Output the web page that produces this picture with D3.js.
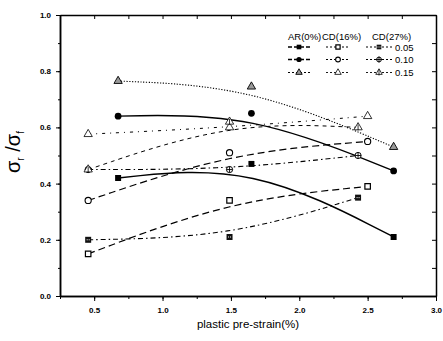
<!DOCTYPE html>
<html><head><meta charset="utf-8">
<script src="https://cdn.jsdelivr.net/npm/d3@7"></script>
<style>
body{margin:0;background:#fff}
svg{display:block}
text{font-family:"Liberation Sans",Arial,sans-serif;fill:#000}
</style>
</head><body>
<svg id="c" width="443" height="341"></svg>
<script>
// ---- data ----
const xAR   = [0.675, 1.65, 2.69];
const xCD16 = [0.456, 1.49, 2.50];
const xCD27 = [0.456, 1.49, 2.43];
const ar005   = [0.42, 0.47, 0.21];
const ar010   = [0.64, 0.65, 0.445];
const ar015   = [0.765, 0.745, 0.53];
const cd16005 = [0.15, 0.34, 0.39];
const cd16010 = [0.34, 0.51, 0.55];
const cd16015 = [0.576, 0.60, 0.64];
const cd27005 = [0.20, 0.21, 0.35];
const cd27010 = [0.45, 0.45, 0.50];
const cd27015 = [0.45, 0.62, 0.60];
const xTicks = [0.5, 1.0, 1.5, 2.0, 2.5, 3.0];
const yTicks = [0.0, 0.2, 0.4, 0.6, 0.8, 1.0];
const groupLabels  = ["AR(0%)", "CD(16%)", "CD(27%)"];
const strainLabels = ["0.05", "0.10", "0.15"];
const xTitle = "plastic pre-strain(%)";

// ---- series table ----
const series = [
  {g:0, s:0, xs:xAR,   ys:ar005,   mk:"sqF",   dash:null,        w:1.4},
  {g:0, s:1, xs:xAR,   ys:ar010,   mk:"cirF",  dash:null,        w:1.4},
  {g:0, s:2, xs:xAR,   ys:ar015,   mk:"triH",  dash:"1.2,1.6",   w:1.1},
  {g:1, s:0, xs:xCD16, ys:cd16005, mk:"sqO",   dash:"7,4",       w:1.2},
  {g:1, s:1, xs:xCD16, ys:cd16010, mk:"cirO",  dash:"7,4",       w:1.2},
  {g:1, s:2, xs:xCD16, ys:cd16015, mk:"triO",  dash:"3,5,1,5",   w:1.0},
  {g:2, s:0, xs:xCD27, ys:cd27005, mk:"sqD",   dash:"5,3,1.5,3", w:1.1},
  {g:2, s:1, xs:xCD27, ys:cd27010, mk:"cirX",  dash:"5,3,1.5,3", w:1.1},
  {g:2, s:2, xs:xCD27, ys:cd27015, mk:"triX",  dash:"4,4",       w:1.0}
];

const svg = d3.select("#c");
const L = 60, R = 436, T = 15, B = 296;
const x = d3.scaleLinear().domain([0.25, 3.0]).range([L, R]);
const y = d3.scaleLinear().domain([0, 1.0]).range([B, T]);

// axes
const minorX = d3.range(0.25, 3.001, 0.25);
const minorY = d3.range(0, 1.001, 0.1);
function styleAxis(g){
  g.selectAll(".domain").attr("stroke","#000").attr("stroke-width",1.5);
  g.selectAll(".tick line").attr("stroke","#000").attr("stroke-width",1);
}
svg.append("g").attr("transform",`translate(0,${B})`)
  .call(d3.axisBottom(x).tickValues(minorX).tickSize(3).tickFormat("").tickSizeOuter(0)).call(styleAxis);
svg.append("g").attr("transform",`translate(0,${B})`)
  .call(d3.axisBottom(x).tickValues(xTicks).tickSize(5).tickPadding(6).tickFormat(d3.format(".1f")).tickSizeOuter(0))
  .call(styleAxis)
  .call(g=>g.selectAll("text").attr("font-size",8).attr("font-weight","bold").attr("font-family","Liberation Sans, Arial"));
svg.append("g").attr("transform",`translate(${L},0)`)
  .call(d3.axisLeft(y).tickValues(minorY).tickSize(2).tickFormat("").tickSizeOuter(0)).call(styleAxis);
svg.append("g").attr("transform",`translate(${L},0)`)
  .call(d3.axisLeft(y).tickValues(yTicks).tickSize(4).tickPadding(5).tickFormat(d3.format(".1f")).tickSizeOuter(0))
  .call(styleAxis)
  .call(g=>g.selectAll("text").attr("font-size",8).attr("font-weight","bold").attr("font-family","Liberation Sans, Arial"));
svg.append("g").attr("transform",`translate(0,${T})`)
  .call(d3.axisBottom(x).tickValues(minorX).tickSize(4).tickFormat("").tickSizeOuter(0)).call(styleAxis);
svg.append("g").attr("transform",`translate(${R},0)`)
  .call(d3.axisLeft(y).tickValues(minorY).tickSize(0).tickFormat("").tickSizeOuter(0)).call(styleAxis)
  .call(g=>g.selectAll(".tick line").attr("x2",-4).attr("x1",0));

// axis titles
svg.append("text").attr("x",(L+R)/2).attr("y",328).attr("text-anchor","middle")
  .attr("font-size",11.5).text(xTitle);
const yt = svg.append("text").attr("transform","translate(20,152) rotate(-90)")
  .attr("text-anchor","middle").attr("font-size",20);
yt.append("tspan").text("σ");
yt.append("tspan").attr("font-size",10).attr("dy",4).text("r");
yt.append("tspan").attr("dy",-4).text(" /σ");
yt.append("tspan").attr("font-size",10).attr("dy",4).text("f");

// markers
function marker(g, type, cx, cy, scale){
  const k = scale || 1;
  const sq = d3.symbol().type(d3.symbolSquare).size(36*k)();
  const ci = d3.symbol().type(d3.symbolCircle).size(36*k)();
  const tr = d3.symbol().type(d3.symbolTriangle).size(30*k)();
  const m = g.append("g").attr("transform",`translate(${cx},${cy})`);
  switch(type){
    case "sqF": m.append("path").attr("d",sq).attr("fill","#000"); break;
    case "cirF": m.append("path").attr("d",ci).attr("fill","#000"); break;
    case "triH": m.append("path").attr("d",tr).attr("fill","#999").attr("stroke","#000").attr("stroke-width",0.9); break;
    case "sqO": m.append("path").attr("d",d3.symbol().type(d3.symbolSquare).size(30*k)()).attr("fill","#fff").attr("stroke","#000").attr("stroke-width",1.2); break;
    case "cirO": m.append("path").attr("d",d3.symbol().type(d3.symbolCircle).size(30*k)()).attr("fill","#fff").attr("stroke","#000").attr("stroke-width",1.1); break;
    case "triO": m.append("path").attr("d",tr).attr("fill","#fff").attr("stroke","#000").attr("stroke-width",0.8); break;
    case "sqD":
      m.append("path").attr("d",sq).attr("fill","#111");
      m.append("rect").attr("x",-1.5).attr("y",-0.5).attr("width",1).attr("height",1).attr("fill","#fff");
      m.append("rect").attr("x",0.5).attr("y",-0.5).attr("width",1).attr("height",1).attr("fill","#fff");
      break;
    case "cirX":
      m.append("path").attr("d",d3.symbol().type(d3.symbolCircle).size(30*k)()).attr("fill","#fff").attr("stroke","#000").attr("stroke-width",1);
      m.append("path").attr("d","M-3,0H3M0,-3V3").attr("stroke","#000").attr("stroke-width",0.9);
      break;
    case "triX":
      m.append("path").attr("d",tr).attr("fill","#fff").attr("stroke","#000").attr("stroke-width",0.8);
      m.append("path").attr("d","M0,-3V3").attr("stroke","#000").attr("stroke-width",0.8);
      break;
  }
}

// lines and points
const line = d3.line().x(d=>x(d[0])).y(d=>y(d[1])).curve(d3.curveBasis);
const plot = svg.append("g");
series.forEach(sr=>{
  const pts = sr.xs.map((xv,i)=>[xv, sr.ys[i]]);
  plot.append("path").attr("d",line(pts)).attr("fill","none").attr("stroke","#000")
    .attr("stroke-width",sr.w).attr("stroke-dasharray",sr.dash);
});
series.forEach(sr=>{
  sr.xs.forEach((xv,i)=>marker(plot, sr.mk, x(xv), y(sr.ys[i])));
});

// legend
const lg = svg.append("g");
const hdrX = [288, 322, 372];
groupLabels.forEach((t,i)=>lg.append("text").attr("x",hdrX[i]).attr("y",40).attr("font-size",9.5).text(t));
const colX = [[288,310],[326,350],[366,392]];
const rowY = [47, 59.5, 72.5];
series.forEach(sr=>{
  const [a,b] = colX[sr.g], yy = rowY[sr.s];
  lg.append("path").attr("d",d3.line()([[a,yy],[b,yy]])).attr("stroke","#000")
    .attr("stroke-width",sr.w*0.9).attr("stroke-dasharray",sr.dash ? "2,2" : "4,2");
  marker(lg, sr.mk, (a+b)/2, yy, 0.6);
});
strainLabels.forEach((t,i)=>lg.append("text").attr("x",395).attr("y",rowY[i]+3.5).attr("font-size",9.5).text(t));
</script>
</body></html>
